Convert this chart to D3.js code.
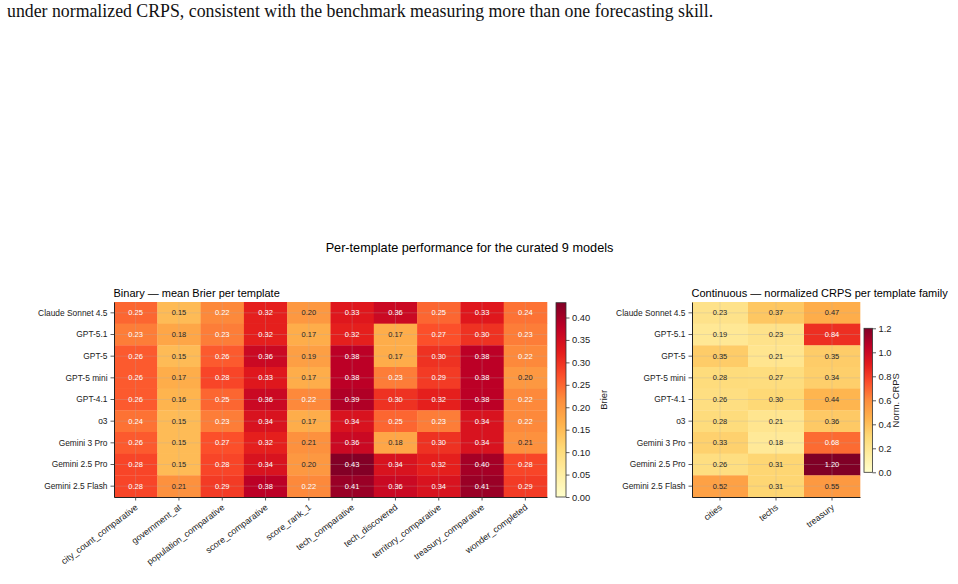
<!DOCTYPE html>
<html><head><meta charset="utf-8">
<script src="https://cdn.jsdelivr.net/npm/d3@7"></script>
<style>
body{margin:0;background:#fff}
svg{display:block}
text{font-family:"Liberation Sans",Arial,Helvetica,sans-serif}
</style>
</head><body><svg id="c" width="958" height="584"></svg>
<script>
const models = ["Claude Sonnet 4.5","GPT-5.1","GPT-5","GPT-5 mini","GPT-4.1","o3","Gemini 3 Pro","Gemini 2.5 Pro","Gemini 2.5 Flash"];
const binaryTemplates = ["city_count_comparative","government_at","population_comparative","score_comparative","score_rank_1","tech_comparative","tech_discovered","territory_comparative","treasury_comparative","wonder_completed"];
const brierClaude   = [0.25,0.15,0.22,0.32,0.20,0.33,0.36,0.25,0.33,0.24];
const brierGPT51    = [0.23,0.18,0.23,0.32,0.17,0.32,0.17,0.27,0.30,0.23];
const brierGPT5     = [0.26,0.15,0.26,0.36,0.19,0.38,0.17,0.30,0.38,0.22];
const brierGPT5mini = [0.26,0.17,0.28,0.33,0.17,0.38,0.23,0.29,0.38,0.20];
const brierGPT41    = [0.26,0.16,0.25,0.36,0.22,0.39,0.30,0.32,0.38,0.22];
const brierO3       = [0.24,0.15,0.23,0.34,0.17,0.34,0.25,0.23,0.34,0.22];
const brierGem3Pro  = [0.26,0.15,0.27,0.32,0.21,0.36,0.18,0.30,0.34,0.21];
const brierGem25Pro = [0.28,0.15,0.28,0.34,0.20,0.43,0.34,0.32,0.40,0.28];
const brierGem25Fl  = [0.28,0.21,0.29,0.38,0.22,0.41,0.36,0.34,0.41,0.29];
const brierValues = [brierClaude,brierGPT51,brierGPT5,brierGPT5mini,brierGPT41,brierO3,brierGem3Pro,brierGem25Pro,brierGem25Fl];

const continuousFamilies = ["cities","techs","treasury"];
const crpsValues = [
  [0.23,0.37,0.47],
  [0.19,0.23,0.84],
  [0.35,0.21,0.35],
  [0.28,0.27,0.34],
  [0.26,0.30,0.44],
  [0.28,0.21,0.36],
  [0.33,0.18,0.68],
  [0.26,0.31,1.20],
  [0.52,0.31,0.55]
];
const brierTicks = [0,0.05,0.10,0.15,0.20,0.25,0.30,0.35,0.40];
const crpsTicks = [0,0.2,0.4,0.6,0.8,1.0,1.2];
const brierMax = 0.433;
const crpsMax = 1.2;
const ylorrd = ["#ffffcc","#ffeda0","#fed976","#feb24c","#fd8d3c","#fc4e2a","#e31a1c","#bd0026","#800026"];

const svg = d3.select("#c");

function cmap(vmax){
  return d3.scaleLinear().domain(d3.range(9).map(i=>i*vmax/8)).range(ylorrd).interpolate(d3.interpolateRgb).clamp(true);
}

// body text
svg.append("text").attr("x",7).attr("y",17)
  .style("font-family",'"Liberation Serif","Times New Roman",serif').style("font-size","17.8px").attr("fill","#111")
  .text("under normalized CRPS, consistent with the benchmark measuring more than one forecasting skill.");

// suptitle
svg.append("text").attr("x",469.5).attr("y",252).attr("text-anchor","middle")
  .style("font-size","12.7px").attr("fill","#000").text("Per-template performance for the curated 9 models");

function heatmap(o){
  const x = d3.scaleBand().domain(o.cols).range([o.x0,o.x1]).padding(0);
  const y = d3.scaleBand().domain(models).range([o.y0,o.y1]).padding(0);
  const c = cmap(o.vmax);
  const g = svg.append("g");
  const cells = [];
  models.forEach((m,i)=>o.cols.forEach((k,j)=>cells.push({m,k,v:o.values[i][j]})));
  g.selectAll("rect.cell").data(cells).join("rect").attr("class","cell")
    .attr("x",d=>x(d.k)).attr("y",d=>y(d.m))
    .attr("width",x.bandwidth()+0.3).attr("height",y.bandwidth()+0.3)
    .attr("fill",d=>c(d.v));
  // grid
  g.selectAll("line.gx").data(o.cols).join("line").attr("class","gx")
    .attr("x1",d=>x(d)+x.bandwidth()/2).attr("x2",d=>x(d)+x.bandwidth()/2)
    .attr("y1",o.y0).attr("y2",o.y1).attr("stroke","#b0b0b0").attr("stroke-opacity",0.35).attr("stroke-width",0.8);
  g.selectAll("line.gy").data(models).join("line").attr("class","gy")
    .attr("y1",d=>y(d)+y.bandwidth()/2).attr("y2",d=>y(d)+y.bandwidth()/2)
    .attr("x1",o.x0).attr("x2",o.x1).attr("stroke","#b0b0b0").attr("stroke-opacity",0.35).attr("stroke-width",0.8);
  g.selectAll("text.val").data(cells).join("text").attr("class","val")
    .attr("x",d=>x(d.k)+x.bandwidth()/2).attr("y",d=>y(d.m)+y.bandwidth()/2)
    .attr("dy","0.35em").attr("text-anchor","middle").style("font-size","7.5px")
    .attr("fill",d=>d.v>o.vmax/2?"#fff":"#262626")
    .text(d=>d.v.toFixed(2));
  // axes
  const ax = g.append("g").attr("transform",`translate(${o.x0},0)`)
    .call(d3.axisLeft(y).tickSize(3.5).tickPadding(3).tickSizeOuter(0));
  ax.selectAll("text").style("font-size","8.4px").attr("fill","#222");
  ax.select(".domain").attr("stroke","#222").attr("stroke-width",1);
  ax.selectAll(".tick line").attr("stroke","#333").attr("stroke-width",0.8);
  const bx = g.append("g").attr("transform",`translate(0,${o.y1})`)
    .call(d3.axisBottom(x).tickSize(3.5).tickSizeOuter(0));
  bx.select(".domain").attr("stroke","#222").attr("stroke-width",1);
  bx.selectAll(".tick line").attr("stroke","#333").attr("stroke-width",0.8);
  bx.selectAll("text").style("font-size","8.9px").attr("fill","#222")
    .attr("text-anchor","end").attr("x",0).attr("y",0).attr("dy","0.72em")
    .attr("transform","translate(-1,6.5) rotate(-37)");
  // title
  svg.append("text").attr("x",o.x0-0.5).attr("y",o.y0-5.5).style("font-size","11px").attr("fill","#000").text(o.title);
}

function colorbar(o){
  const c = cmap(o.vmax);
  const s = d3.scaleLinear().domain([0,o.vmax]).range([o.y1,o.y0]);
  const id = "grad"+o.id;
  const grad = svg.append("defs").append("linearGradient").attr("id",id)
    .attr("x1",0).attr("y1",1).attr("x2",0).attr("y2",0);
  d3.range(0,1.0001,0.02).forEach(t=>grad.append("stop").attr("offset",t).attr("stop-color",c(t*o.vmax)));
  svg.append("rect").attr("x",o.x0).attr("y",o.y0).attr("width",o.w).attr("height",o.y1-o.y0)
    .attr("fill",`url(#${id})`).attr("stroke","#333").attr("stroke-width",0.8);
  const a = svg.append("g").attr("transform",`translate(${o.x0+o.w},0)`)
    .call(d3.axisRight(s).tickValues(o.ticks).tickFormat(d3.format(o.fmt)).tickSize(3.5).tickPadding(2.5));
  a.select(".domain").remove();
  a.selectAll(".tick line").attr("stroke","#333").attr("stroke-width",0.8);
  a.selectAll("text").style("font-size","9.4px").attr("fill","#222");
  svg.append("text").attr("transform",`translate(${o.lx},${(o.y0+o.y1)/2}) rotate(-90)`)
    .attr("text-anchor","middle").style("font-size","9.4px").attr("fill","#222").text(o.label);
}

heatmap({cols:binaryTemplates, values:brierValues, vmax:brierMax, x0:114, x1:547, y0:302, y1:497,
  title:"Binary — mean Brier per template"});
heatmap({cols:continuousFamilies, values:crpsValues, vmax:crpsMax, x0:692, x1:860, y0:302, y1:497,
  title:"Continuous — normalized CRPS per template family"});
colorbar({id:"b", vmax:brierMax, ticks:brierTicks, fmt:".2f", x0:556, w:10, y0:302.7, y1:497, lx:607, label:"Brier"});
colorbar({id:"c", vmax:crpsMax, ticks:crpsTicks, fmt:".1f", x0:864, w:8.5, y0:328.3, y1:472.3, lx:899, label:"Norm. CRPS"});
</script>
</body></html>
